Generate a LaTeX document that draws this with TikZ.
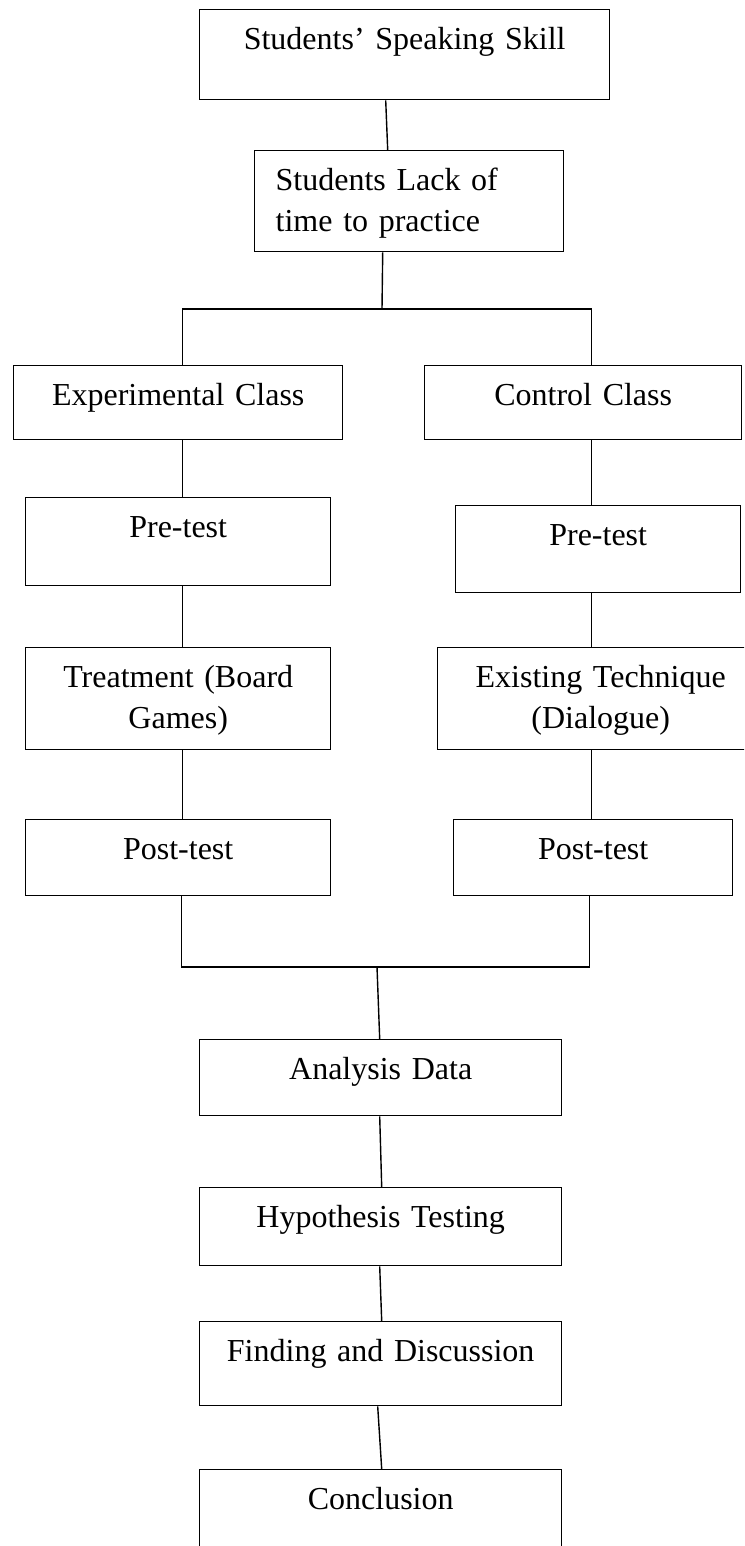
\documentclass[tikz,border=0pt]{standalone}
\usepackage{fontspec}
\setmainfont{Liberation Serif}
\begin{document}
\begin{tikzpicture}[x=0.5pt, y=-0.5pt,
  box/.style={draw, line width=0.7pt, anchor=north west, inner xsep=0pt, inner ysep=0pt,
    text height=20pt, align=center, font=\fontsize{16}{20.5}\selectfont},
  link/.style={line width=0.7pt}]

\useasboundingbox (0,0) rectangle (744,1546);
\clip (0,0) rectangle (744,1546);

\def\xl{25}; % left column
\def\xm{199}; % middle column

\node[box, text width=205pt, text depth=25pt] (speak) at (\xm,9) {Students' Speaking Skill};
\node[box, align=left, inner xsep=10.5pt, text width=133.5pt, text depth=30.5pt] (lack) at (254,150) {Students Lack of\\ time to practice};

\node[box, text width=164.5pt, text depth=17pt] (exper) at (13,365) {Experimental Class};
\node[box, text width=158.5pt, text depth=17pt] (control) at (424,365) {Control Class};

\node[box, text width=152.5pt, text depth=24pt] (preL) at (\xl,497) {Pre-test};
\node[box, text width=142.5pt, text depth=23.5pt] (preR) at (455,505) {Pre-test};

\node[box, text width=152.5pt, text depth=31pt] (treat) at (\xl,647) {Treatment (Board\\ Games)};
\node[box, text width=163pt, text depth=31pt] (exist) at (437,647) {Existing Technique\\ (Dialogue)};

\node[box, text width=152.5pt, text depth=18pt] (postL) at (\xl,819) {Post-test};
\node[box, text width=139.5pt, text depth=18pt] (postR) at (453,819) {Post-test};

\node[box, text width=181pt, text depth=18pt] (analysis) at (\xm,1039) {Analysis Data};
\node[box, text width=181pt, text depth=19pt] (hypo) at (\xm,1187) {Hypothesis Testing};
\node[box, text width=181pt, text depth=22pt] (finding) at (\xm,1321) {Finding and Discussion};
\node[box, text width=181pt, text depth=30pt] (concl) at (\xm,1469) {Conclusion};

\coordinate (split) at (382,309);
\coordinate (merge) at (377,967);

\draw[link] ([xshift=-9.5pt]speak.south) -- ([xshift=-10.75pt]lack.north);
\draw[link] ([xshift=-13.25pt]lack.south) -- (split);
\draw[link] ([xshift=2.25pt]exper.north) |- (split) -| ([xshift=4.25pt]control.north);

\draw[link] ([xshift=2.25pt]exper.south) -- ([xshift=2.25pt]preL.north);
\draw[link] ([xshift=4.25pt]control.south) -- ([xshift=-3.25pt]preR.north);
\draw[link] ([xshift=2.25pt]preL.south) -- ([xshift=2.25pt]treat.north);
\draw[link] ([xshift=-3.25pt]preR.south) -- ([xshift=-4.5pt]exist.north);
\draw[link] ([xshift=2.25pt]treat.south) -- ([xshift=2.25pt]postL.north);
\draw[link] ([xshift=-4.5pt]exist.south) -- ([xshift=-0.75pt]postR.north);

\draw[link] ([xshift=1.75pt]postL.south) |- (merge) -| ([xshift=-1.75pt]postR.south);
\draw[link] (merge) -- ([xshift=-0.5pt]analysis.north);
\draw[link] ([xshift=-0.5pt]analysis.south) -- ([xshift=0.5pt]hypo.north);
\draw[link] ([xshift=-0.5pt]hypo.south) -- ([xshift=0.5pt]finding.north);
\draw[link] ([xshift=-1.5pt]finding.south) -- ([xshift=0.5pt]concl.north);

\end{tikzpicture}
\end{document}
